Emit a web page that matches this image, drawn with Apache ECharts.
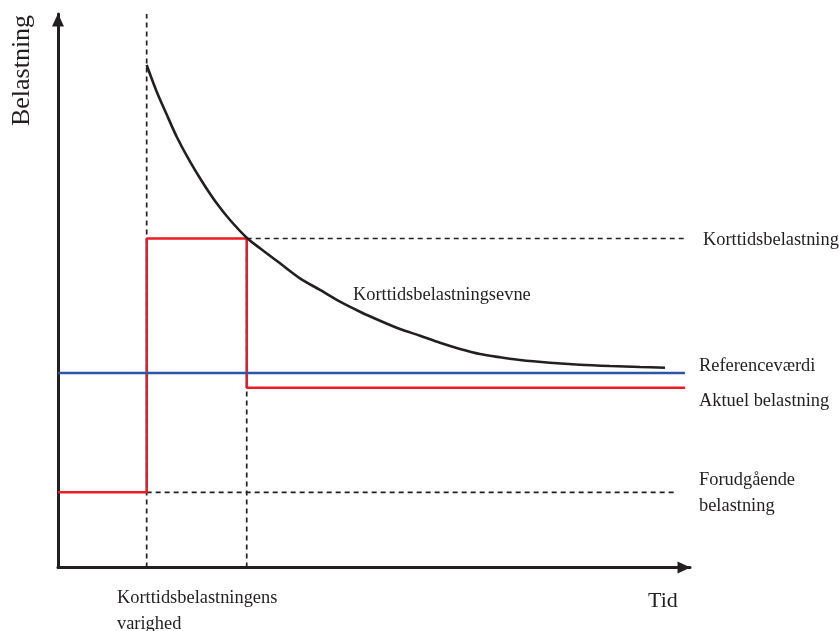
<!DOCTYPE html>
<html>
<head>
<meta charset="utf-8">
<script src="https://cdn.jsdelivr.net/npm/echarts@6/dist/echarts.min.js"></script>
<style>html,body{margin:0;padding:0;background:#fff}#chart{width:839px;height:631px}</style>
</head>
<body>
<div id="chart"></div>
<script>
// Curve: Korttidsbelastningsevne (time, load) in relative units 0-100
const curveTime = [14.03, 15.62, 17.2, 18.78, 20.89, 22.99, 25.11, 27.22, 29.86, 31.96, 35.13, 38.29, 41.46, 44.62, 47.78, 50.95, 54.11, 57.28, 60.44, 63.61, 66.77, 69.94, 73.1, 77.85, 82.59, 87.34, 92.09, 96.04];
const curveLoad = [90.79, 85.96, 81.84, 77.83, 73.32, 69.38, 65.8, 62.78, 59.58, 57.67, 54.96, 52.25, 50.14, 48.02, 46.21, 44.59, 43.09, 41.88, 40.6, 39.48, 38.57, 37.98, 37.49, 37.0, 36.64, 36.4, 36.22, 36.1];

// Key times
const tShortStart = 14.03;
const tShortEnd = 29.86;
const tLineEnd = 99.2;
const tShortDashEnd = 99.5;
const tPriorDashEnd = 97.6;

// Key loads
const loadShort = 59.44;
const loadReference = 35.14;
const loadActual = 32.48;
const loadPrior = 13.59;
const loadTop = 100;

// Labels
const labelYAxis = 'Belastning';
const labelXAxis = 'Tid';
const labelShort = 'Korttidsbelastning';
const labelCapacity = 'Korttidsbelastningsevne';
const labelReference = 'Referenceværdi';
const labelActual = 'Aktuel belastning';
const labelPrior = ['Forudgående', 'belastning'];
const labelDuration = ['Korttidsbelastningens', 'varighed'];

const chart = echarts.init(document.getElementById('chart'), null, {renderer: 'canvas'});

const ink = '#231f20';
const red = '#ed1c24';
const blue = '#2e54a4';
const font = "'Liberation Serif', 'Times New Roman', serif";

const dashStyle = {color: ink, width: 1.7, type: [5, 4]};

function lineSeries(data, style, z) {
  return {type: 'line', data: data, symbol: 'none', lineStyle: style, z: z, silent: true, animation: false};
}

const redData = [
  [0, loadPrior], [tShortStart, loadPrior], [tShortStart, loadShort],
  [tShortEnd, loadShort], [tShortEnd, loadActual], [tLineEnd, loadActual]
];

function txt(x, y, s, size, extra) {
  return Object.assign({type: 'text', x: x, y: y, style: {text: s, font: size + 'px ' + font, fill: ink, textVerticalAlign: 'middle'}}, extra || {});
}

const axisLineCfg = {show: true, symbol: ['none', 'triangle'], symbolSize: [12, 13], symbolOffset: [0, -6], lineStyle: {color: ink, width: 3}};

chart.setOption({
  animation: false,
  grid: {left: 58, right: 149, top: 14, bottom: 63.5},
  xAxis: {
    type: 'value', min: 0, max: 100,
    axisLine: axisLineCfg,
    axisTick: {show: false}, axisLabel: {show: false}, splitLine: {show: false}
  },
  yAxis: {
    type: 'value', min: 0, max: 100,
    axisLine: axisLineCfg,
    axisTick: {show: false}, axisLabel: {show: false}, splitLine: {show: false}
  },
  series: [
    lineSeries([[tShortStart, 0], [tShortStart, loadTop]], dashStyle, 2),
    lineSeries([[tShortEnd, 0], [tShortEnd, loadShort]], dashStyle, 2),
    lineSeries([[tShortEnd, loadShort], [tShortDashEnd, loadShort]], dashStyle, 2),
    lineSeries([[tShortStart, loadPrior], [tPriorDashEnd, loadPrior]], dashStyle, 2),
    lineSeries(redData, {color: red, width: 2.6}, 3),
    lineSeries([[0, loadReference], [tLineEnd, loadReference]], {color: blue, width: 2.6}, 4),
    Object.assign(lineSeries(curveTime.map((t, i) => [t, curveLoad[i]]), {color: ink, width: 2.6}, 5), {smooth: 0.3})
  ],
  graphic: [
    {type: 'text', x: 22, y: 70.5, rotation: Math.PI / 2, style: {text: labelYAxis, font: '26px ' + font, fill: ink, textAlign: 'center', textVerticalAlign: 'middle'}},
    txt(648, 601, labelXAxis, 22),
    txt(703, 240, labelShort, 18.4),
    txt(353, 295, labelCapacity, 18.4),
    txt(699, 366, labelReference, 18.4),
    txt(699, 401, labelActual, 18.4),
    txt(699, 480, labelPrior[0], 18.4),
    txt(699, 506, labelPrior[1], 18.4),
    txt(117, 598, labelDuration[0], 18.4),
    txt(117, 624, labelDuration[1], 18.4)
  ]
});
</script>
</body>
</html>
